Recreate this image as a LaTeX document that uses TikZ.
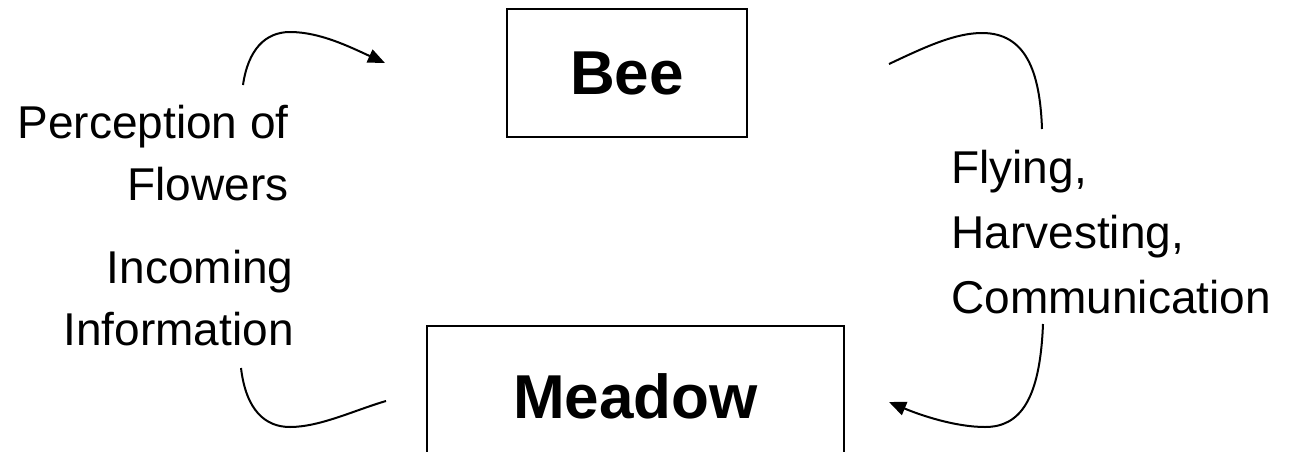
\documentclass[tikz,border=0pt]{standalone}
\usepackage{fontspec}
\setmainfont{Liberation Sans}
\usetikzlibrary{arrows.meta}

\begin{document}
\begin{tikzpicture}[x=0.5pt,y=-0.5pt,
    every node/.style={inner sep=0pt},
    box/.style={draw,line width=0.85pt,font=\fontsize{31}{37}\selectfont\bfseries},
    lbl/.style={font=\fontsize{23}{31}\selectfont},
    flow/.style={line width=1pt}]
    \fill[white] (0,0) rectangle (1291,451);
    \useasboundingbox (0,0) rectangle (1291,451);
    % the two boxes
    \node[box,minimum width=120pt,minimum height=64pt] (bee) at (627,73) {Bee};
    \node[box,minimum width=208.5pt,minimum height=70pt] (meadow) at (635.5,396) {Meadow};
    % labels (base = last line)
    \node[lbl,align=right,anchor=base east] (percept) at (289,200) {Perception of\\Flowers};
    \node[lbl,align=right,anchor=base east] (incoming) at (294,345) {Incoming\\Information};
    \node[lbl,align=left,anchor=base west,font=\fontsize{23}{32.5}\selectfont] (acts) at (951,313) {Flying,\\Harvesting,\\Communication};
    % ends of the curved arrows
    \coordinate (inA) at (243,85);
    \coordinate (inB) at (385,63);
    \coordinate (outA) at (889,64);
    \coordinate (outB) at (1042,129);
    \coordinate (backA) at (1043,324);
    \coordinate (backB) at (889,402);
    \coordinate (infoA) at (241,368);
    \coordinate (infoB) at (386,401);
    \draw[flow,-{Triangle[length=8.5pt,width=7pt]}] (inA) .. controls (248,50) and (265,32) .. (290,32) .. controls (320,32) and (350,47) .. (inB);
    \draw[flow] (outA) .. controls (925,47) and (955,33) .. (982,33) .. controls (1025,33) and (1040,70) .. (outB);
    \draw[flow,-{Triangle[length=8.5pt,width=7pt]}] (backA) .. controls (1040,400) and (1020,427) .. (985,427) .. controls (955,427) and (920,415) .. (backB);
    \draw[flow] (infoA) .. controls (246,410) and (265,427) .. (290,427) .. controls (320,427) and (355,410) .. (infoB);
\end{tikzpicture}
\end{document}
